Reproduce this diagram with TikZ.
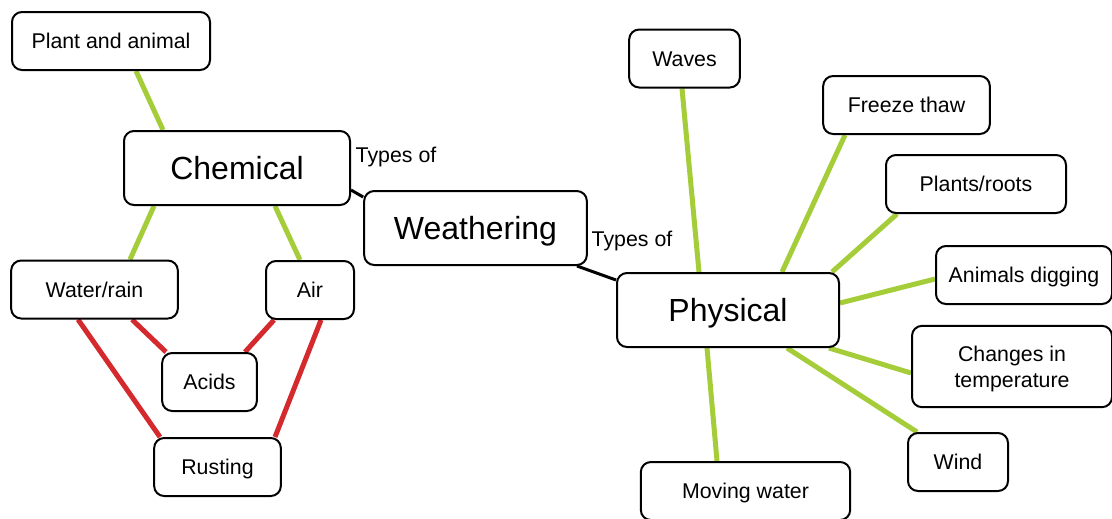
\documentclass[tikz,border=0pt]{standalone}
\usepackage{fontspec}
\setmainfont{Liberation Sans}
\usepackage{xcolor}
\usetikzlibrary{positioning,backgrounds}

\definecolor{leafgreen}{HTML}{A5CD39}
\definecolor{rustred}{HTML}{D42A2E}

\begin{document}
\begin{tikzpicture}[
    x=0.75pt, y=-0.75pt,
    concept/.style={
        rectangle, draw=black, line width=1.5pt, rounded corners=7.5pt,
        fill=white, inner sep=0pt, align=center,
        minimum height=43.5pt, text height=11.5pt, text depth=0pt,
        font=\fontsize{16}{19.5}\selectfont
    },
    bigconcept/.style={
        concept, minimum height=55.5pt, text height=17.2pt,
        font=\fontsize{24}{28}\selectfont
    },
    linklabel/.style={
        font=\fontsize{16}{19.5}\selectfont, inner sep=0pt
    },
    greenlink/.style={draw=leafgreen, line width=3.75pt},
    redlink/.style={draw=rustred, line width=3.75pt},
    typelink/.style={draw=black, line width=2.25pt}
]
\useasboundingbox (0,0) rectangle (1112,518);

% Main concepts
\node[bigconcept, minimum width=169.5pt] (chem)    at (237,168)   {Chemical};
\node[bigconcept, minimum width=167pt]   (weather) at (475.5,228) {Weathering};
\node[bigconcept, minimum width=166.5pt] (phys)    at (728,310)   {Physical};

% Chemical side
\node[concept, minimum width=148.5pt] (plant) at (111,41)    {Plant and animal};
\node[concept, minimum width=125pt]   (water) at (94.5,289.5) {Water/rain};
\node[concept, minimum width=66pt]    (air)   at (310,290)   {Air};
\node[concept, minimum width=71pt]    (acids) at (209.5,382) {Acids};
\node[concept, minimum width=95pt]    (rust)  at (217.5,467) {Rusting};

% Physical side
\node[concept, minimum width=83pt]  (waves)   at (684.5,58.5) {Waves};
\node[concept, minimum width=125pt] (freeze)  at (906.5,105)  {Freeze thaw};
\node[concept, minimum width=135pt] (plants)  at (976,184)    {Plants/roots};
\node[concept, minimum width=132pt] (animals) at (1024,275)   {Animals digging};
\node[concept, minimum width=150pt, minimum height=61pt, text height=31pt] (changes) at (1012,366.5) {Changes in\\temperature};
\node[concept, minimum width=75pt]  (wind)    at (958,462)    {Wind};
\node[concept, minimum width=157pt] (moving)  at (745.5,491)  {Moving water};

% Link labels
\node[linklabel] (typesA) at (396,157) {Types of};
\node[linklabel] (typesB) at (632,241) {Types of};

% Connectors
\begin{pgfonlayer}{background}
\draw[typelink] (chem.east |- 0,190) -- (weather.west |- 0,197);
\draw[typelink] (weather.south -| 577,0) -- (phys.west |- 0,280);

\draw[greenlink] (plant.south -| 136,0) -- (chem.north -| 163,0);
\draw[greenlink] (chem.south -| 154,0) -- (water.north -| 130,0);
\draw[greenlink] (chem.south -| 275,0) -- (air.north -| 300,0);

\draw[redlink] (water.south -| 132,0) -- (acids.north -| 166,0);
\draw[redlink] (water.south -| 78,0)  -- (rust.north -| 160,0);
\draw[redlink] (air.south -| 274,0)   -- (acids.north -| 245,0);
\draw[redlink] (air.south -| 321,0)   -- (rust.north -| 275,0);

\draw[greenlink] (waves.south -| 682,0)  -- (phys.north -| 699,0);
\draw[greenlink] (freeze.south -| 845,0) -- (phys.north -| 782,0);
\draw[greenlink] (plants.south -| 897,0) -- (phys.north -| 832,0);
\draw[greenlink] (animals.west |- 0,279) -- (phys.east |- 0,303);
\draw[greenlink] (changes.west |- 0,373) -- (phys.south -| 829,0);
\draw[greenlink] (wind.north -| 917,0)   -- (phys.south -| 787,0);
\draw[greenlink] (phys.south -| 707,0)   -- (moving.north -| 717,0);
\end{pgfonlayer}

\end{tikzpicture}
\end{document}
